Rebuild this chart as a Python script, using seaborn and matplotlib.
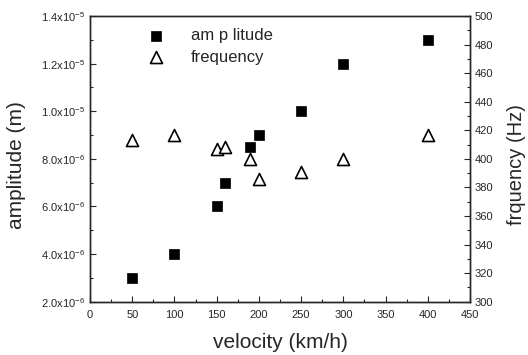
import numpy as np
import pandas as pd
import seaborn as sns
import matplotlib.pyplot as plt
from matplotlib.ticker import MultipleLocator, FuncFormatter

# datos
vel_amp = [50, 100, 150, 160, 190, 200, 250, 300, 400]
amplitud = [3.0e-6, 4.0e-6, 6.0e-6, 7.0e-6, 8.5e-6, 9.0e-6, 1.0e-5, 1.2e-5, 1.3e-5]
vel_freq = [50, 100, 150, 160, 190, 200, 250, 300, 400]
frecuencia = [413, 417, 407, 408, 400, 386, 391, 400, 417]

sns.set_style('ticks')
plt.rcParams['font.family'] = ['Liberation Sans', 'DejaVu Sans']
plt.rcParams['mathtext.fontset'] = 'custom'
plt.rcParams['mathtext.rm'] = 'Liberation Sans'
plt.rcParams['mathtext.it'] = 'Liberation Sans'

df_amp = pd.DataFrame({'vel': vel_amp, 'amp': amplitud})
df_freq = pd.DataFrame({'vel': vel_freq, 'freq': frecuencia})

fig = plt.figure(figsize=(5.28, 3.55), dpi=100)
ax = fig.add_axes([0.1705, 0.150, 0.7197, 0.805])
ax2 = ax.twinx()

sns.scatterplot(data=df_amp, x='vel', y='amp', ax=ax, marker='s', s=55,
                color='black', edgecolor='black', linewidth=0.5, label='am p litude', legend=False)
sns.scatterplot(data=df_freq, x='vel', y='freq', ax=ax2, marker='^', s=75,
                facecolor='white', edgecolor='black', linewidth=1.2, label='frequency', legend=False)

ax.set_xlim(0, 450)
ax.set_ylim(2e-6, 1.4e-5)
ax2.set_ylim(300, 500)

ax.xaxis.set_major_locator(MultipleLocator(50))
ax.xaxis.set_minor_locator(MultipleLocator(25))
ax.yaxis.set_major_locator(MultipleLocator(2e-6))
ax.yaxis.set_minor_locator(MultipleLocator(1e-6))
ax2.yaxis.set_major_locator(MultipleLocator(20))
ax2.yaxis.set_minor_locator(MultipleLocator(10))

def fmt_sci(v, pos):
    if v <= 0:
        return ''
    e = int(np.floor(np.log10(v) + 1e-9))
    m = v / 10**e
    return f'{m:.1f}x10$^{{{e}}}$'

ax.yaxis.set_major_formatter(FuncFormatter(fmt_sci))

for a in (ax, ax2):
    a.tick_params(which='both', direction='in', labelsize=8, width=0.8)
    a.tick_params(which='major', length=4)
    a.tick_params(which='minor', length=2)
    for sp in a.spines.values():
        sp.set_visible(True)
        sp.set_linewidth(1.0)
ax.tick_params(axis='x', pad=6)

ax.set_xlabel('velocity (km/h)', fontsize=15, labelpad=9)
ax.set_ylabel('amplitude (m)', fontsize=15)
ax2.set_ylabel('frquency (Hz)', fontsize=14.5)
ax.yaxis.set_label_coords(-0.168, 0.48)
ax2.yaxis.set_label_coords(1.097, 0.48)

h1, l1 = ax.get_legend_handles_labels()
h2, l2 = ax2.get_legend_handles_labels()
ax.legend(h1 + h2, l1 + l2, loc='upper left', bbox_to_anchor=(0.09, 1.01),
          frameon=False, fontsize=12, handletextpad=1.1, labelspacing=0.4)

fig.savefig('out.png', dpi=100)
